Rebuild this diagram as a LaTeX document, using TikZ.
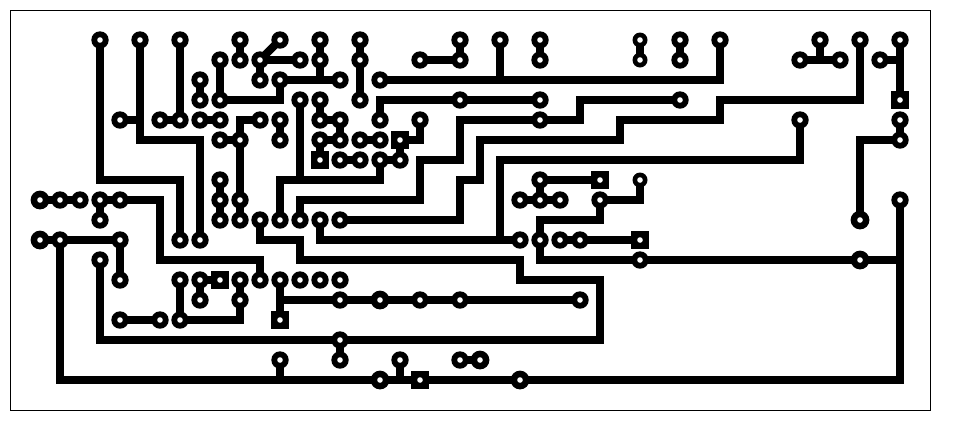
\documentclass[tikz,border=0pt]{standalone}
\begin{document}
\begin{tikzpicture}[x=1pt,y=-1pt,
  trace/.style={draw=black,line width=8pt,line cap=butt,line join=miter},
  pad/.style={circle,fill=black,minimum size=17.4pt,inner sep=0pt,outer sep=0pt},
  smallpad/.style={circle,fill=black,minimum size=15pt,inner sep=0pt,outer sep=0pt},
  bigpad/.style={circle,fill=black,minimum size=18.8pt,inner sep=0pt,outer sep=0pt},
  sqpad/.style={rectangle,fill=black,minimum size=18pt,inner sep=0pt,outer sep=0pt},
  hole/.style={circle,fill=white,minimum size=5.6pt,inner sep=0pt,outer sep=0pt}]
\useasboundingbox (0,0) rectangle (960,440);
\fill[white] (0,0) rectangle (960,440);
\draw[black,line width=1pt] (10.5,10.5) rectangle (930.5,410.5);
% traces
\foreach \p in {
  {(100,40) -- (100,180) -- (180,180) -- (180,240)},
  {(140,40) -- (140,140) -- (200,140) -- (200,240)},
  {(120,120) -- (140,120)},
  {(180,40) -- (180,120)},
  {(160,120) -- (180,120)},
  {(200,120) -- (220,120)},
  {(240,40) -- (240,60)},
  {(280,40) -- (260,60)},
  {(300,60) -- (260,60) -- (260,80)},
  {(220,60) -- (220,100) -- (280,100) -- (280,80) -- (340,80)},
  {(320,40) -- (320,80)},
  {(200,80) -- (200,100)},
  {(360,40) -- (360,100)},
  {(420,60) -- (460,60) -- (460,40)},
  {(500,40) -- (500,80)},
  {(380,80) -- (720,80) -- (720,40)},
  {(540,40) -- (540,60)},
  {(640,40) -- (640,60)},
  {(680,40) -- (680,60)},
  {(380,120) -- (380,100) -- (540,100)},
  {(300,220) -- (300,200) -- (420,200) -- (420,160) -- (460,160) -- (460,120) -- (580,120) -- (580,100) -- (680,100)},
  {(340,220) -- (460,220) -- (460,180) -- (480,180) -- (480,140) -- (620,140) -- (620,120) -- (720,120) -- (720,100) -- (860,100) -- (860,40)},
  {(320,220) -- (320,240) -- (520,240)},
  {(500,240) -- (500,160) -- (800,160) -- (800,120)},
  {(280,220) -- (280,180) -- (380,180) -- (380,160)},
  {(300,100) -- (300,180)},
  {(380,160) -- (400,160) -- (400,140) -- (420,140) -- (420,120)},
  {(260,220) -- (260,240) -- (300,240) -- (300,260) -- (520,260) -- (520,280) -- (600,280) -- (600,340) -- (100,340) -- (100,260)},
  {(340,340) -- (340,360)},
  {(120,200) -- (160,200) -- (160,260) -- (260,260) -- (260,280)},
  {(100,200) -- (100,220)},
  {(40,200) -- (80,200)},
  {(100,200) -- (120,200)},
  {(40,240) -- (120,240) -- (120,280)},
  {(60,240) -- (60,380) -- (900,380) -- (900,200)},
  {(280,360) -- (280,380)},
  {(400,360) -- (400,380)},
  {(180,280) -- (180,320)},
  {(120,320) -- (160,320)},
  {(180,320) -- (240,320) -- (240,280)},
  {(220,280) -- (200,280) -- (200,300)},
  {(280,280) -- (280,320)},
  {(280,300) -- (580,300)},
  {(220,180) -- (220,220)},
  {(260,120) -- (240,120) -- (240,220)},
  {(220,140) -- (240,140)},
  {(280,120) -- (280,140)},
  {(320,100) -- (320,120) -- (340,120) -- (340,140) -- (320,140) -- (320,160)},
  {(360,140) -- (380,140)},
  {(340,160) -- (360,160)},
  {(600,180) -- (540,180) -- (540,200)},
  {(520,200) -- (560,200)},
  {(640,180) -- (640,200) -- (600,200) -- (600,220) -- (540,220) -- (540,260) -- (900,260)},
  {(560,240) -- (640,240)},
  {(860,220) -- (860,140) -- (900,140) -- (900,120)},
  {(900,40) -- (900,100)},
  {(880,60) -- (900,60)},
  {(800,60) -- (840,60)},
  {(820,40) -- (820,60)},
  {(460,360) -- (480,360)}
}{\draw[trace] \p;}
% regular pads
\foreach \x/\y in {100/40,140/40,180/40,240/40,280/40,320/40,360/40,460/40,500/40,540/40,680/40,720/40,820/40,860/40,900/40,
  220/60,240/60,260/60,300/60,320/60,360/60,420/60,460/60,540/60,680/60,800/60,840/60,880/60,
  200/80,260/80,280/80,340/80,380/80,
  200/100,220/100,300/100,320/100,360/100,460/100,540/100,680/100,
  120/120,160/120,180/120,200/120,220/120,260/120,280/120,320/120,340/120,380/120,420/120,540/120,800/120,900/120,
  220/140,240/140,280/140,320/140,340/140,360/140,380/140,900/140,
  340/160,360/160,380/160,400/160,
  220/180,540/180,
  60/200,80/200,100/200,120/200,220/200,240/200,520/200,540/200,560/200,600/200,900/200,
  100/220,220/220,240/220,260/220,280/220,300/220,320/220,340/220,
  60/240,120/240,180/240,200/240,520/240,540/240,560/240,580/240,
  100/260,640/260,
  120/280,180/280,200/280,240/280,260/280,280/280,300/280,320/280,340/280,
  200/300,240/300,340/300,420/300,460/300,580/300,
  120/320,160/320,180/320,
  340/340,
  280/360,340/360,400/360,460/360}
  {\node[pad] (p\x-\y) at (\x,\y) {};}
% small pads
\foreach \x/\y in {640/40,640/60,640/180}
  {\node[smallpad] (p\x-\y) at (\x,\y) {};}
% large pads
\foreach \x/\y in {40/200,40/240,380/300,480/360,860/220,860/260,380/380,520/380}
  {\node[bigpad] (p\x-\y) at (\x,\y) {};}
% square pads
\foreach \x/\y in {900/100,400/140,320/160,600/180,640/240,220/280,280/320,420/380}
  {\node[sqpad] (p\x-\y) at (\x,\y) {};}
% drill holes
\foreach \x/\y in {100/40,140/40,180/40,240/40,280/40,320/40,360/40,460/40,500/40,540/40,680/40,720/40,820/40,860/40,900/40,
  220/60,240/60,260/60,300/60,320/60,360/60,420/60,460/60,540/60,680/60,800/60,840/60,880/60,
  200/80,260/80,280/80,340/80,380/80,
  200/100,220/100,300/100,320/100,360/100,460/100,540/100,680/100,
  120/120,160/120,180/120,200/120,220/120,260/120,280/120,320/120,340/120,380/120,420/120,540/120,800/120,900/120,
  220/140,240/140,280/140,320/140,340/140,360/140,380/140,900/140,
  340/160,360/160,380/160,400/160,
  220/180,540/180,
  40/200,60/200,80/200,100/200,120/200,220/200,240/200,520/200,540/200,560/200,600/200,900/200,
  100/220,220/220,240/220,260/220,280/220,300/220,320/220,340/220,
  40/240,60/240,120/240,180/240,200/240,520/240,540/240,560/240,580/240,
  100/260,640/260,
  120/280,180/280,200/280,240/280,260/280,280/280,300/280,320/280,340/280,
  200/300,240/300,340/300,420/300,460/300,580/300,
  120/320,160/320,180/320,
  340/340,
  280/360,340/360,400/360,460/360,
  640/40,640/60,640/180,
  380/300,480/360,860/220,860/260,380/380,520/380,
  900/100,400/140,320/160,600/180,640/240,220/280,280/320,420/380}
  {\node[hole] (h\x-\y) at (\x,\y) {};}
\end{tikzpicture}
\end{document}
